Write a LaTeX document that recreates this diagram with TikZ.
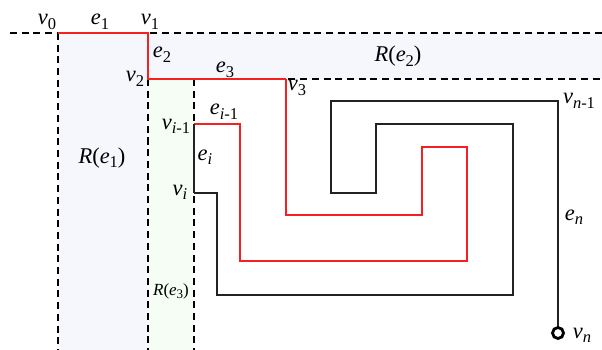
\documentclass[tikz,border=0pt]{standalone}
\usepackage{fontspec}
\setmainfont{Liberation Serif}
\definecolor{regblue}{HTML}{F6F7FD}
\definecolor{reggreen}{HTML}{F5FDF5}
\definecolor{pathred}{HTML}{F52020}
\definecolor{pathblack}{HTML}{222222}
\newcommand{\lv}[2]{\textit{#1}\raisebox{-0.22em}{\fontsize{16.5}{16.5}\selectfont #2}}
\newcommand{\lvs}[2]{\textit{#1}\raisebox{-0.22em}{\fontsize{13}{13}\selectfont #2}}
\begin{document}
\begin{tikzpicture}[x=1pt,y=-1pt,
  bound/.style={draw=black,line width=1.1pt,dash pattern=on 7pt off 4.7pt},
  redpath/.style={draw=pathred,line width=1.3pt,line join=miter},
  blackpath/.style={draw=pathblack,line width=1.3pt,line join=miter},
  lab/.style={inner sep=0pt,anchor=base,font=\fontsize{22.5}{24}\selectfont},
  slab/.style={inner sep=0pt,anchor=base,font=\fontsize{17}{19}\selectfont},
  endpt/.style={circle,draw=black,line width=2.8pt,fill=white,minimum size=11pt,inner sep=0pt}]
\useasboundingbox (0,0) rectangle (602,350);
% regions
\fill[regblue] (58,33) rectangle (148,350);
\fill[regblue] (148,33) rectangle (602,79);
\fill[reggreen] (148,79) rectangle (194,350);
% boundaries
\coordinate (tl) at (10,33);
\coordinate (tr) at (602,33);
\coordinate (mr) at (602,79);
\coordinate (b0) at (58,350);
\coordinate (b1) at (148,350);
\coordinate (b2) at (194,350);
\coordinate (top3) at (194,79);
% vertices
\coordinate (v0) at (58,33);
\coordinate (v1) at (148,33);
\coordinate (v2) at (148,79);
\coordinate (v3) at (286,79);
\coordinate (vi1) at (194,124);
\coordinate (vi) at (194,193);
\coordinate (vn1) at (558,101);
\coordinate (vnp) at (558,333);
\draw[bound] (tl) -- (tr);
\draw[bound] (v2) -- (mr);
\draw[bound] (v0) -- (b0);
\draw[bound] (v2) -- (b1);
\draw[bound] (top3) -- (b2);
% red path
\draw[redpath] (v0) -- (v1) -- (v2) -- (v3);
\draw[redpath] (v3) -- (286,215) -- (422,215) -- (422,147) -- (467,147) -- (467,261) -- (240,261) -- (240,124) -- (vi1);
% black path
\draw[blackpath] (vi1) -- (vi);
\draw[blackpath] (vi) -- (217,193) -- (217,295) -- (513,295) -- (513,124) -- (376,124) -- (376,193) -- (331,193) -- (331,101) -- (vn1) -- (vnp);
\node[endpt] (vn) at (vnp) {};
% labels
\node[lab] (lv0) at (47,25) {\lv{v}{0}};
\node[lab] (le1) at (100,25) {\lv{e}{1}};
\node[lab] (lv1) at (150,25) {\lv{v}{1}};
\node[lab] (le2) at (162,58) {\lv{e}{2}};
\node[lab] (lv2) at (135,82) {\lv{v}{2}};
\node[lab] (le3) at (225,73) {\lv{e}{3}};
\node[lab] (lv3) at (297,91) {\lv{v}{3}};
\node[lab] (lRe2) at (398,62) {\textit{R}(\lv{e}{2})};
\node[lab] (lvn1) at (579,104) {\lv{v}{\textit{n}-1}};
\node[lab] (lei1) at (224,115) {\lv{e}{\textit{i}-1}};
\node[lab] (lvi1) at (176,129) {\lv{v}{\textit{i}-1}};
\node[lab] (lei) at (205,160) {\lv{e}{\textit{i}}};
\node[lab] (lRe1) at (102,163) {\textit{R}(\lv{e}{1})};
\node[lab] (lvi) at (180,195) {\lv{v}{\textit{i}}};
\node[slab] (lRe3) at (171,295) {\textit{R}(\lvs{e}{3})};
\node[lab] (len) at (574,220) {\lv{e}{\textit{n}}};
\node[lab] (lvn) at (582,338) {\lv{v}{\textit{n}}};
\end{tikzpicture}
\end{document}
